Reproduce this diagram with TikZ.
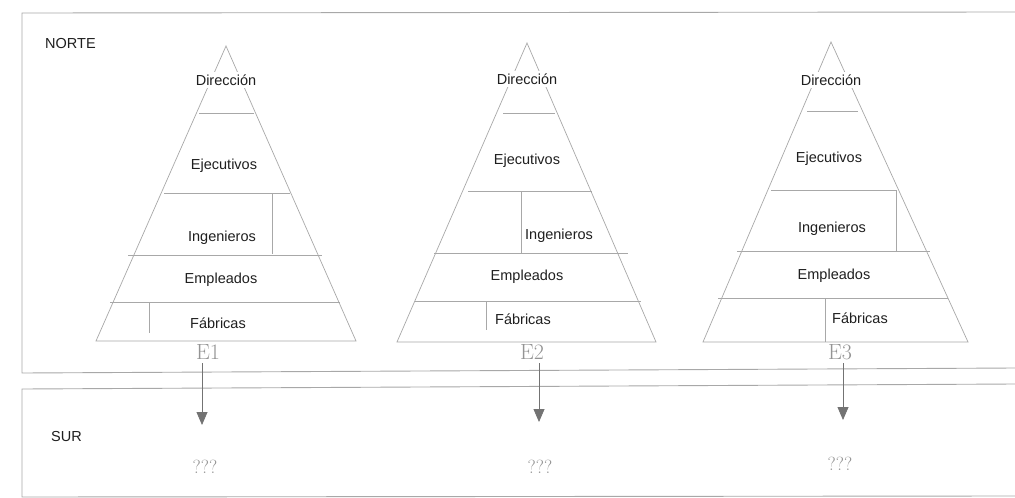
\documentclass[tikz,border=0pt]{standalone}
\usepackage{fontspec}
\setmainfont{Latin Modern Roman}
\newfontfamily\arialf{Liberation Sans}
\usetikzlibrary{arrows.meta}
\definecolor{lnc}{gray}{0.66}
\definecolor{txc}{gray}{0.12}
\definecolor{elc}{gray}{0.58}
\definecolor{arc}{gray}{0.45}
\tikzset{
  pyr/.style={draw=lnc, line width=0.7pt},
  lvl/.style={font=\arialf\fontsize{14.5}{16}\selectfont, text=txc, inner sep=0pt},
  top/.style={lvl, fill=white, inner xsep=1pt, inner ysep=3pt},
  etq/.style={font=\fontsize{22}{24}\selectfont, text=elc, inner sep=0pt},
  qq/.style={font=\fontsize{19}{21}\selectfont, text=elc, inner sep=0pt},
  flecha/.style={draw=arc, line width=0.8pt, -{Triangle[width=11pt,length=13pt]}},
  caja/.style={draw=lnc, line width=0.9pt}
}
\begin{document}
\begin{tikzpicture}[x=1pt,y=-1pt]
\useasboundingbox (0,0) rectangle (1015,498);
\fill[white] (0,0) rectangle (1015,498);
% boxes (open to the right)
\draw[caja] (1015,12) -- (22,13) -- (22,373) -- (1015,368);
\draw[caja] (1015,384) -- (22,389) -- (22,497) -- (1015,496);
\node[lvl, anchor=west] (norte) at (45,44) {NORTE};
\node[lvl, anchor=west] (sur) at (51,437) {SUR};

% pyramid 1
\draw[pyr] (226,46) -- (96,341) -- (356,341) -- cycle;
\draw[pyr] (199,113) -- (254,113);
\draw[pyr] (164,193) -- (290,193);
\draw[pyr] (272,193) -- (272,254);
\draw[pyr] (128,255) -- (322,255);
\draw[pyr] (110,302) -- (340,302);
\draw[pyr] (149,302) -- (149,333);
\node[top] (d1) at (226,80) {Dirección};
\node[lvl] (x1) at (224,166) {Ejecutivos};
\node[lvl] (i1) at (222,238) {Ingenieros};
\node[lvl] (m1) at (221,280) {Empleados};
\node[lvl] (f1) at (218,323) {Fábricas};
\node[etq] (e1) at (208,352) {E1};

% pyramid 2
\draw[pyr] (527,43) -- (397,342) -- (656,342) -- cycle;
\draw[pyr] (503,113) -- (555,113);
\draw[pyr] (468,191) -- (592,191);
\draw[pyr] (521,191) -- (521,253);
\draw[pyr] (434,253) -- (628,253);
\draw[pyr] (415,301) -- (641,301);
\draw[pyr] (486,301) -- (486,330);
\node[top] (d2) at (527,79) {Dirección};
\node[lvl] (x2) at (527,161) {Ejecutivos};
\node[lvl, anchor=west] (i2) at (525,236) {Ingenieros};
\node[lvl] (m2) at (527,277) {Empleados};
\node[lvl] (f2) at (523,319) {Fábricas};
\node[etq] (e2) at (532,352) {E2};

% pyramid 3
\draw[pyr] (831,42) -- (703,342) -- (968,342) -- cycle;
\draw[pyr] (807,111) -- (858,111);
\draw[pyr] (771,190) -- (896,190);
\draw[pyr] (896,190) -- (896,251);
\draw[pyr] (737,251) -- (930,251);
\draw[pyr] (718,298) -- (948,298);
\draw[pyr] (825,298) -- (825,342);
\node[top] (d3) at (831,80) {Dirección};
\node[lvl] (x3) at (829,159) {Ejecutivos};
\node[lvl] (i3) at (832,229) {Ingenieros};
\node[lvl] (m3) at (834,276) {Empleados};
\node[lvl] (f3) at (860,318) {Fábricas};
\node[etq] (e3) at (840,352) {E3};

% arrows
\coordinate (a1) at (202,425);
\coordinate (a2) at (539,422);
\coordinate (a3) at (843,420);
\coordinate (s1) at (202,363);
\coordinate (s2) at (539,363);
\coordinate (s3) at (843,363);
\draw[flecha] (s1) -- (a1);
\draw[flecha] (s2) -- (a2);
\draw[flecha] (s3) -- (a3);

\node[qq] (q1) at (205,467) {???};
\node[qq] (q2) at (540,467) {???};
\node[qq] (q3) at (840,464) {???};
\end{tikzpicture}
\end{document}
